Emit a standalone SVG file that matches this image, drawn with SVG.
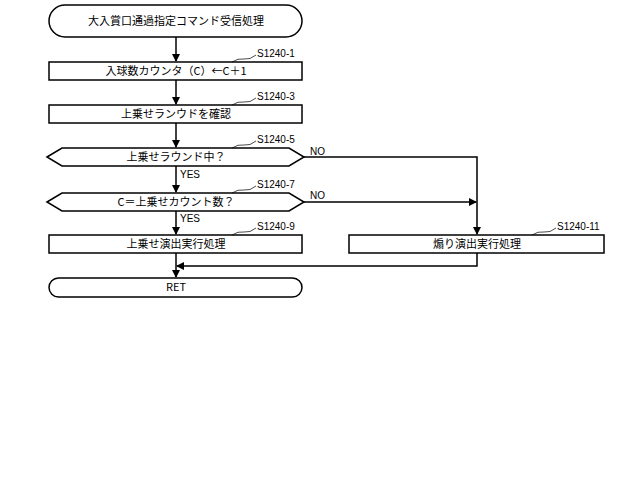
<svg xmlns="http://www.w3.org/2000/svg" width="640" height="478" viewBox="0 0 640 478">
<style>
.s{fill:#fff;stroke:#000;stroke-width:1.5}
.t{font-family:"Noto Sans CJK JP","Liberation Sans",sans-serif;font-size:11px;text-anchor:middle;fill:#000}
.l{font-family:"Liberation Sans",sans-serif;font-size:10px;fill:#000}
.c{fill:none;stroke:#000;stroke-width:1.5}
.w{fill:none;stroke:#000;stroke-width:0.7}
</style>
<defs><marker id="a" markerWidth="8" markerHeight="8" refX="7" refY="4" orient="auto" markerUnits="userSpaceOnUse"><path d="M0,0L8,4L0,8z"/></marker></defs>
<rect width="640" height="478" fill="#fff"/>
<g id="connectors">
<path class="c" d="M176,37V61" marker-end="url(#a)"/>
<path class="c" d="M176,80V104" marker-end="url(#a)"/>
<path class="c" d="M176,123V147" marker-end="url(#a)"/>
<path class="c" d="M176,166V192" marker-end="url(#a)"/>
<path class="c" d="M176,211V234" marker-end="url(#a)"/>
<path class="c" d="M176,253V277" marker-end="url(#a)"/>
<path class="c" d="M304,157H477V234" marker-end="url(#a)"/>
<path class="c" d="M304,202H476" marker-end="url(#a)"/>
<path class="c" d="M477,253V266H177" marker-end="url(#a)"/>
<text class="l" x="310" y="155">NO</text>
<text class="l" x="310" y="199">NO</text>
<text class="l" x="180" y="178">YES</text>
<text class="l" x="180" y="222">YES</text>
</g>
<g id="start"><rect class="s" x="49" y="5" width="253" height="32" rx="16"/><text class="t" x="176" y="25">大入賞口通過指定コマンド受信処理</text></g>
<g id="s1"><rect class="s" x="49" y="62" width="253" height="18"/><text class="t" x="176" y="75">入球数カウンタ（C）←C＋1</text>
<path class="w" d="M232,62q6,-4 12,-3t12,-4"/><text class="l" x="257" y="57">S1240-1</text></g>
<g id="s3"><rect class="s" x="49" y="105" width="253" height="18"/><text class="t" x="176" y="118">上乗せランウドを確認</text>
<path class="w" d="M232,105q6,-4 12,-3t12,-4"/><text class="l" x="257" y="100">S1240-3</text></g>
<g id="s5"><path class="s" d="M47,157L62,148H289L304,157L289,166H62Z"/><text class="t" x="176" y="161">上乗せラウンド中？</text>
<path class="w" d="M232,148q6,-4 12,-3t12,-4"/><text class="l" x="257" y="143">S1240-5</text></g>
<g id="s7"><path class="s" d="M47,202L62,193H289L304,202L289,211H62Z"/><text class="t" x="176" y="206">C＝上乗せカウント数？</text>
<path class="w" d="M232,193q6,-4 12,-3t12,-4"/><text class="l" x="257" y="188">S1240-7</text></g>
<g id="s9"><rect class="s" x="49" y="235" width="253" height="18"/><text class="t" x="176" y="248">上乗せ演出実行処理</text>
<path class="w" d="M232,235q6,-4 12,-3t12,-4"/><text class="l" x="257" y="230">S1240-9</text></g>
<g id="s11"><rect class="s" x="349" y="235" width="255" height="18"/><text class="t" x="477" y="248">煽り演出実行処理</text>
<path class="w" d="M532,235q6,-4 12,-3t12,-4"/><text class="l" x="557" y="230">S1240-11</text></g>
<g id="ret"><rect class="s" x="49" y="278" width="253" height="19" rx="9.5"/><text class="t" x="176" y="291">RET</text></g>
</svg>
